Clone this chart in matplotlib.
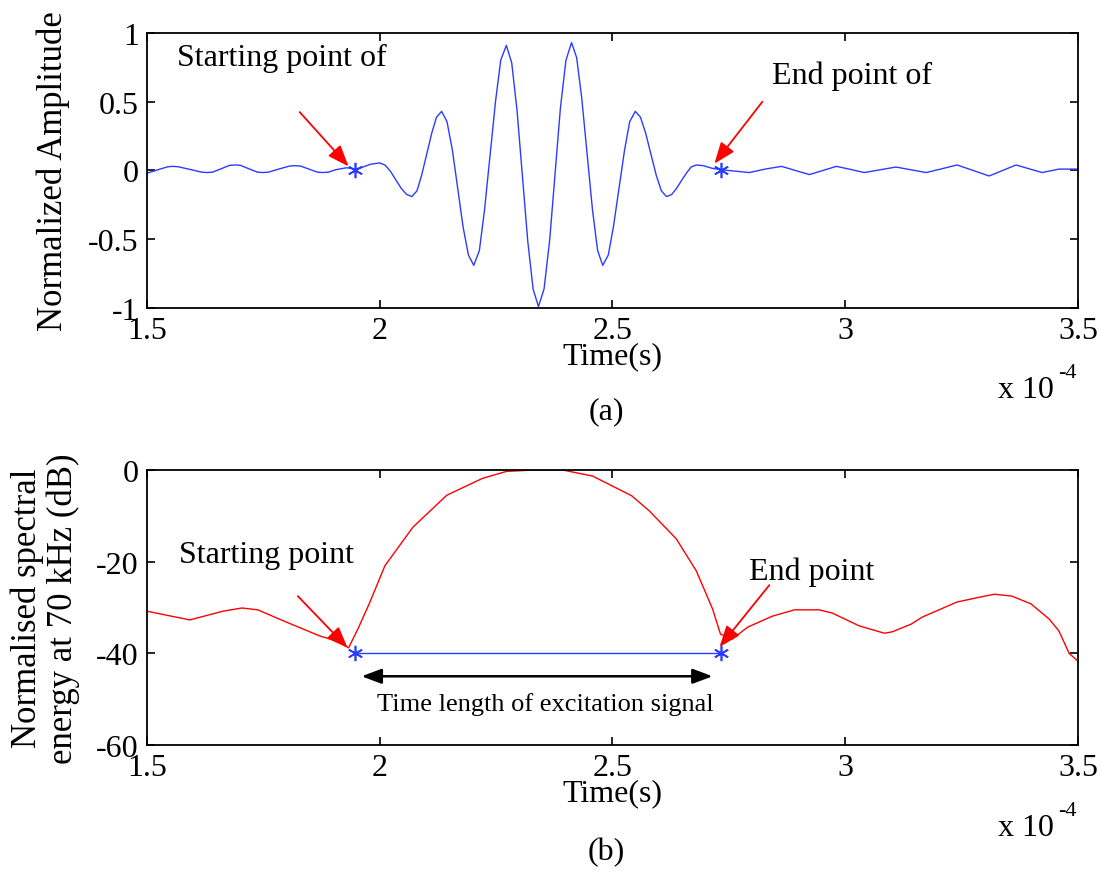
import matplotlib
matplotlib.use('Agg')
from matplotlib import pyplot as plt

plt.rcParams['font.family'] = ['Liberation Serif', 'DejaVu Serif']
plt.rcParams['axes.unicode_minus'] = False

# Time axis in units of 1e-4 s
# (a) received waveform, normalised amplitude
t_wave = [1.500, 1.528, 1.545, 1.556, 1.567, 1.592, 1.617, 1.629, 1.641, 1.659,
          1.677, 1.689, 1.701, 1.719, 1.737, 1.749, 1.761, 1.783, 1.806, 1.818,
          1.830, 1.848, 1.866, 1.878, 1.890, 1.905, 1.929, 1.946, 1.960, 1.980,
          2.000, 2.0115, 2.023, 2.0345, 2.046, 2.0575,
          2.069, 2.080, 2.090, 2.101, 2.112, 2.122,
          2.133, 2.1445, 2.156, 2.1675, 2.179, 2.1905,
          2.202, 2.214, 2.225, 2.237, 2.249, 2.260,
          2.272, 2.2835, 2.295, 2.3065, 2.318, 2.3295,
          2.341, 2.353, 2.365, 2.3765, 2.388, 2.400,
          2.412, 2.423, 2.434, 2.4455, 2.457, 2.468,
          2.479, 2.491, 2.502, 2.514, 2.526, 2.537,
          2.549, 2.560, 2.571, 2.5825, 2.594, 2.605,
          2.616, 2.627, 2.637, 2.648, 2.659, 2.669,
          2.680, 2.695, 2.715, 2.734, 2.764, 2.794, 2.828, 2.863, 2.893, 2.923,
          2.952, 2.981, 3.011, 3.041, 3.075, 3.109, 3.141, 3.174, 3.207, 3.240,
          3.275, 3.309, 3.338, 3.367, 3.395, 3.423, 3.459, 3.500]
amp_wave = [-0.02, 0.01, 0.027, 0.03, 0.027, 0.008, -0.012, -0.015, -0.012, 0.012,
            0.037, 0.04, 0.037, 0.012, -0.012, -0.015, -0.012, 0.01, 0.032, 0.035,
            0.032, 0.01, -0.012, -0.015, -0.012, 0.005, 0.02, 0.01, 0.02, 0.045,
            0.055, 0.039, -0.006, -0.068, -0.129, -0.174,
            -0.19, -0.148, -0.035, 0.12, 0.275, 0.388,
            0.43, 0.355, 0.15, -0.13, -0.41, -0.615,
            -0.69, -0.583, -0.29, 0.11, 0.51, 0.803,
            0.91, 0.783, 0.435, -0.04, -0.515, -0.863,
            -0.99, -0.861, -0.51, -0.03, 0.45, 0.801,
            0.93, 0.821, 0.525, 0.12, -0.285, -0.581,
            -0.69, -0.615, -0.41, -0.13, 0.15, 0.355,
            0.43, 0.388, 0.275, 0.12, -0.035, -0.148,
            -0.19, -0.175, -0.133, -0.075, -0.018, 0.025,
            0.04, 0.035, 0.015, 0.005, -0.005, -0.015, 0.01, 0.03, 0.0, -0.03,
            0.0, 0.03, 0.008, -0.015, 0.005, 0.025, 0.005, -0.015, 0.012, 0.04,
            0.0, -0.04, 0.0, 0.04, 0.012, -0.015, 0.01, 0.01]

# (b) normalised spectral energy at 70 kHz (dB)
t_energy = [1.500, 1.592, 1.663, 1.704, 1.738, 1.800, 1.871, 1.914, 1.933,
            1.953, 1.979, 2.011, 2.071, 2.144, 2.221, 2.272, 2.328, 2.393,
            2.457, 2.541, 2.579, 2.637, 2.680, 2.715, 2.732, 2.757, 2.790,
            2.843, 2.891, 2.944, 2.972, 3.030, 3.084, 3.101, 3.142, 3.165,
            3.240, 3.281, 3.320, 3.358, 3.399, 3.438, 3.459, 3.481, 3.500]
energy_db = [-30.8, -32.7, -30.8, -30.1, -30.5, -33.2, -36.2, -37.5, -38.8,
             -34.7, -28.8, -20.9, -12.5, -5.5, -1.8, -0.3, 0.0, 0.0,
             -1.3, -5.6, -8.9, -15.0, -22.0, -30.3, -35.8, -36.9, -34.3,
             -31.9, -30.5, -30.5, -31.2, -34.0, -35.6, -35.3, -33.6, -32.1,
             -28.8, -27.9, -27.1, -27.5, -29.2, -32.5, -35.1, -40.0, -41.7]

# detected start / end of the excitation signal
t_start, t_end = 1.946, 2.734
threshold_db = -40

fig = plt.figure(figsize=(11.01, 8.78), dpi=100)
ax1 = fig.add_axes([0.1335, 0.6481, 0.8456, 0.3132])
ax2 = fig.add_axes([0.1335, 0.1503, 0.8456, 0.3132])

fs = 23
blue = '#2a3cff'
asterisk = (6, 2, 0)

# --- (a) waveform
ax1.plot(t_wave, amp_wave, color=blue, lw=1.0)
ax1.plot([t_start, t_end], [0, 0], ls='none', marker=asterisk, ms=11,
         mec=blue, mew=1.2)
ax1.set_xlim(1.5, 3.5)
ax1.set_ylim(-1, 1)
ax1.set_yticks([-1, -0.5, 0, 0.5, 1])
ax1.set_yticklabels(['-1', '-0.5', '0', '0.5', '1'])
ax1.set_ylabel('Normalized Amplitude', fontsize=25)
ax1.yaxis.set_label_coords(-0.083, 0.5)

red_head = '-|>,head_length=1.3,head_width=0.5'
ax1.text(1.564, 0.82, 'Starting point of', fontsize=fs, ha='left', va='center')
ax1.annotate('', xy=(1.933, 0.03), xytext=(1.828, 0.425),
             arrowprops=dict(arrowstyle=red_head, color='red', lw=1.3,
                             shrinkA=0, shrinkB=0))
ax1.text(2.843, 0.69, 'End point of', fontsize=fs, ha='left', va='center')
ax1.annotate('', xy=(2.719, 0.05), xytext=(2.822, 0.50),
             arrowprops=dict(arrowstyle=red_head, color='red', lw=1.3,
                             shrinkA=0, shrinkB=0))

# --- (b) spectral energy
ax2.plot(t_energy, energy_db, color='red', lw=1.0)
ax2.plot([t_start, t_end], [threshold_db, threshold_db], color=blue, lw=1.0,
         marker=asterisk, ms=11, mew=1.2)
ax2.set_xlim(1.5, 3.5)
ax2.set_ylim(-60, 0)
ax2.set_yticks([-60, -40, -20, 0])
ax2.set_ylabel('Normalised spectral\nenergy at 70 kHz (dB)', fontsize=25,
               linespacing=1.1)
ax2.yaxis.set_label_coords(-0.072, 0.5)

ax2.text(1.569, -18.5, 'Starting point', fontsize=fs, ha='left', va='center')
ax2.annotate('', xy=(1.931, -38.8), xytext=(1.824, -27.5),
             arrowprops=dict(arrowstyle=red_head, color='red', lw=1.3,
                             shrinkA=0, shrinkB=0))
ax2.text(2.794, -22.0, 'End point', fontsize=fs, ha='left', va='center')
ax2.annotate('', xy=(2.730, -38.6), xytext=(2.837, -25.1),
             arrowprops=dict(arrowstyle=red_head, color='red', lw=1.3,
                             shrinkA=0, shrinkB=0))

ax2.annotate('', xy=(1.961, -45), xytext=(2.715, -45),
             arrowprops=dict(arrowstyle='<|-|>,head_length=1.2,head_width=0.45',
                             color='black', lw=1.8, shrinkA=0, shrinkB=0))
ax2.text(2.356, -51.0, 'Time length of excitation signal', fontsize=19,
         ha='center', va='center')

for ax in (ax1, ax2):
    ax.set_xticks([1.5, 2, 2.5, 3, 3.5])
    ax.set_xticklabels(['1.5', '2', '2.5', '3', '3.5'])
    ax.tick_params(direction='in', top=True, right=True, length=6, width=1.2,
                   labelsize=fs, pad=6)
    for sp in ax.spines.values():
        sp.set_linewidth(1.3)
    ax.set_xlabel('Time(s)', fontsize=fs, va='top')
    ax.xaxis.set_label_coords(0.5, -0.12)

# exponent of the time axis and panel captions
for y_base, y_exp, caption, y_cap in [(0.5558, 0.575, '(a)', 0.5308),
                                      (0.0569, 0.0760, '(b)', 0.0285)]:
    fig.text(0.9065, y_base, 'x 10', fontsize=fs, ha='left', va='center')
    fig.text(0.9615, y_exp, '-4', fontsize=16, ha='left', va='center')
    fig.text(0.5504, y_cap, caption, fontsize=fs, ha='center', va='center')

fig.savefig('out.png', dpi=100)
